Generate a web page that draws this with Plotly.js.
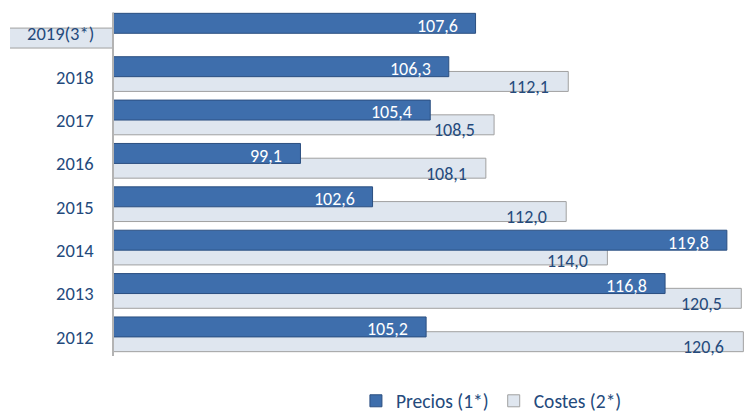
<!DOCTYPE html>
<html>
<head>
<meta charset="utf-8">
<script src="https://cdn.plot.ly/plotly-3.0.1.min.js"></script>
<style>html,body{margin:0;padding:0;background:#fff;}#chart{width:745px;height:414px;}</style>
</head>
<body>
<div id="chart"></div>
<script>
// Data
var categories = ['2012', '2013', '2014', '2015', '2016', '2017', '2018', '2019(3*)'];
var precios = [105.2, 116.8, 119.8, 102.6, 99.1, 105.4, 106.3, 107.6];
var costes  = [120.6, 120.5, 114.0, 112.0, 108.1, 108.5, 112.1, 0];
var seriesNames = ['Precios (1*)', 'Costes (2*)'];

var axisBase = 90;       // value axis crossing
var FONT = 'Carlito, Lato, sans-serif';
var labelColor = '#244a7c';

function fmt(v) { return v.toFixed(1).replace('.', ','); }
function lengths(arr) { return arr.map(function (v) { return v - axisBase; }); }

var tracePrecios = {
  type: 'bar', orientation: 'h', name: seriesNames[0],
  y: categories, x: lengths(precios), base: axisBase,
  offset: -0.06, width: 0.46,
  marker: { color: '#3e6eac', line: { color: '#2b4f80', width: 1 } },
  legendrank: 1, hoverinfo: 'skip'
};
var traceCostes = {
  type: 'bar', orientation: 'h', name: seriesNames[1],
  y: categories, x: lengths(costes), base: axisBase,
  offset: -0.40, width: 0.46,
  marker: { color: '#dfe6ef', line: { color: '#a0a0a0', width: 1 } },
  legendrank: 2, hoverinfo: 'skip'
};

// category axis: annotations use the category index so that numeric-looking names are not read as numbers
var annotations = [];
categories.forEach(function (c, i) {
  annotations.push({
    x: axisBase, y: i, xref: 'x', yref: 'y', text: c, showarrow: false,
    xanchor: 'right', yanchor: 'middle', xshift: -17, yshift: -3,
    font: { family: FONT, size: 18.5, color: labelColor }
  });
  if (precios[i] > axisBase) annotations.push({
    x: precios[i], y: i, xref: 'x', yref: 'y', text: fmt(precios[i]), showarrow: false,
    xanchor: 'right', yanchor: 'middle', xshift: -16, yshift: 5,
    font: { family: FONT, size: 18, color: '#ffffff' }
  });
  if (costes[i] > axisBase) annotations.push({
    x: costes[i], y: i, xref: 'x', yref: 'y', text: fmt(costes[i]), showarrow: false,
    xanchor: 'right', yanchor: 'middle', xshift: -17, yshift: -13,
    font: { family: FONT, size: 18, color: labelColor }
  });
});

var layout = {
  width: 745, height: 414,
  margin: { l: 10, r: 0, t: 9, b: 58, autoexpand: false },
  paper_bgcolor: '#ffffff', plot_bgcolor: 'rgba(0,0,0,0)',
  barmode: 'overlay',
  showlegend: true,
  legend: {
    orientation: 'h', x: 0.655, xanchor: 'center', y: -0.13, yanchor: 'middle',
    font: { family: FONT, size: 19.5, color: labelColor }, traceorder: 'normal',
    itemwidth: 30
  },
  xaxis: { range: [85, 120.68], visible: false, fixedrange: true },
  yaxis: { type: 'category', categoryorder: 'array', categoryarray: categories,
           range: [-0.5, categories.length - 0.5], visible: false, fixedrange: true },
  shapes: [{
    type: 'line', xref: 'x', yref: 'paper', x0: axisBase, x1: axisBase, y0: 0, y1: 0.99,
    line: { color: '#b3b3b3', width: 2 }, layer: 'above'
  }],
  annotations: annotations
};

Plotly.newPlot('chart', [traceCostes, tracePrecios], layout, { displayModeBar: false, staticPlot: true });
</script>
</body>
</html>
